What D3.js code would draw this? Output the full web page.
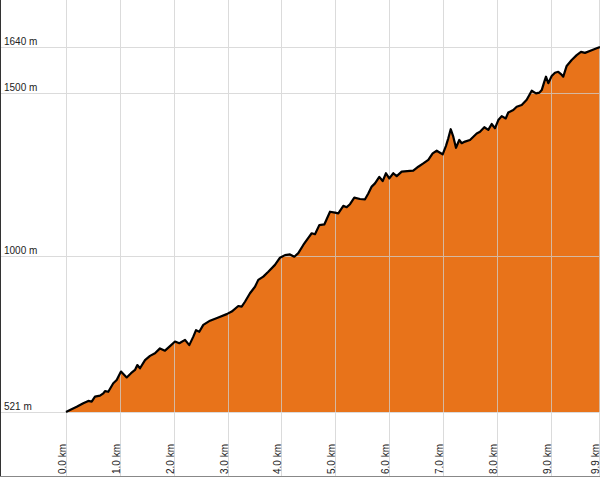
<!DOCTYPE html>
<html>
<head>
<meta charset="utf-8">
<script src="https://cdn.jsdelivr.net/npm/d3@7"></script>
<style>
  html, body { margin: 0; padding: 0; background: #fff; }
  svg { display: block; }
  text { font-family: "Liberation Sans", Arial, sans-serif; font-size: 10px; fill: #222; }
</style>
</head>
<body>
<script>
// Distance along route (km)
const distanceKm = [0.000,0.074,0.199,0.321,0.414,0.477,0.538,0.631,0.693,0.724,0.785,0.878,0.941,1.021,1.127,1.207,1.281,1.324,1.374,1.467,1.560,1.652,1.745,1.838,1.931,2.024,2.104,2.210,2.289,2.364,2.414,2.475,2.549,2.674,2.828,2.984,3.077,3.199,3.262,3.323,3.416,3.509,3.570,3.663,3.756,3.880,3.973,4.066,4.159,4.239,4.313,4.406,4.499,4.562,4.623,4.703,4.796,4.902,4.994,5.056,5.149,5.212,5.273,5.353,5.459,5.552,5.613,5.676,5.737,5.817,5.880,5.941,6.003,6.077,6.140,6.233,6.387,6.448,6.541,6.634,6.727,6.808,6.883,6.944,6.994,7.055,7.098,7.143,7.191,7.241,7.302,7.347,7.408,7.501,7.626,7.687,7.767,7.841,7.904,7.965,8.027,8.090,8.164,8.212,8.305,8.368,8.461,8.554,8.647,8.727,8.788,8.833,8.881,8.912,8.955,9.018,9.079,9.140,9.190,9.233,9.296,9.389,9.482,9.562,9.636,9.760,9.853,9.915];
// Elevation (m)
const elevationM = [521,527,537,548,555,553,568,571,578,585,583,609,619,645,627,640,650,665,655,680,693,701,716,709,723,737,732,742,726,752,772,767,788,801,811,821,829,846,844,859,885,905,926,936,951,972,994,1002,1004,997,1008,1033,1055,1069,1066,1094,1096,1135,1132,1130,1153,1149,1158,1178,1174,1173,1191,1212,1222,1242,1229,1253,1237,1253,1244,1258,1260,1261,1273,1283,1294,1314,1322,1316,1311,1337,1360,1388,1365,1331,1355,1345,1350,1355,1375,1380,1394,1386,1404,1391,1416,1428,1421,1439,1447,1457,1462,1478,1506,1498,1500,1508,1534,1549,1529,1551,1561,1564,1557,1549,1582,1600,1615,1625,1622,1630,1636,1640];
// Axis ticks
const xTicks = [0,1,2,3,4,5,6,7,8,9,9.9];
const xTickLabels = ["0.0 km","1.0 km","2.0 km","3.0 km","4.0 km","5.0 km","6.0 km","7.0 km","8.0 km","9.0 km","9.9 km"];
const yTicks = [521,1000,1500,1640];
const yTickLabels = ["521 m","1000 m","1500 m","1640 m"];

const W = 600, H = 477;
const data = distanceKm.map((d, i) => ({ d, e: elevationM[i] }));

const x = d3.scaleLinear().domain([0, 9.915]).range([66, 600]);
const y = d3.scaleLinear().domain([521, 1640]).range([412, 47]);

const svg = d3.select("body").append("svg").attr("width", W).attr("height", H);

// area fill
svg.append("path")
  .datum(data)
  .attr("d", d3.area().x(p => x(p.d)).y0(y(521)).y1(p => y(p.e)))
  .attr("fill", "#E8731A");

// grid
const grid = svg.append("g").attr("stroke", "#cfcfcf").attr("stroke-width", 1).attr("opacity", 0.75);
grid.selectAll("line.v").data(xTicks).join("line")
  .attr("x1", d => Math.round(x(d)) + 0.5).attr("x2", d => Math.round(x(d)) + 0.5)
  .attr("y1", 0).attr("y2", 476);
grid.selectAll("line.h").data(yTicks).join("line")
  .attr("x1", 0).attr("x2", W)
  .attr("y1", d => Math.round(y(d)) + 0.5).attr("y2", d => Math.round(y(d)) + 0.5);

// profile line
svg.append("path")
  .datum(data)
  .attr("d", d3.line().x(p => x(p.d)).y(p => y(p.e)))
  .attr("fill", "none")
  .attr("stroke", "#000")
  .attr("stroke-width", 2.2)
  .attr("stroke-linejoin", "round");

// frame lines
svg.append("line").attr("x1", 0.5).attr("x2", 0.5).attr("y1", 0).attr("y2", H).attr("stroke", "#333");
svg.append("line").attr("x1", 0).attr("x2", W).attr("y1", 476.5).attr("y2", 476.5).attr("stroke", "#888");

// y labels
svg.selectAll("text.ylab").data(yTicks).join("text")
  .attr("class", "ylab")
  .attr("x", 4)
  .attr("y", d => Math.round(y(d)) - 2)
  .text((d, i) => yTickLabels[i]);

// x labels (read bottom to top)
svg.selectAll("text.xlab").data(xTicks).join("text")
  .attr("class", "xlab")
  .attr("text-anchor", "start")
  .attr("transform", d => `translate(${Math.round(x(d)) - 0.5},474) rotate(-90)`)
  .text((d, i) => xTickLabels[i]);
</script>
</body>
</html>
